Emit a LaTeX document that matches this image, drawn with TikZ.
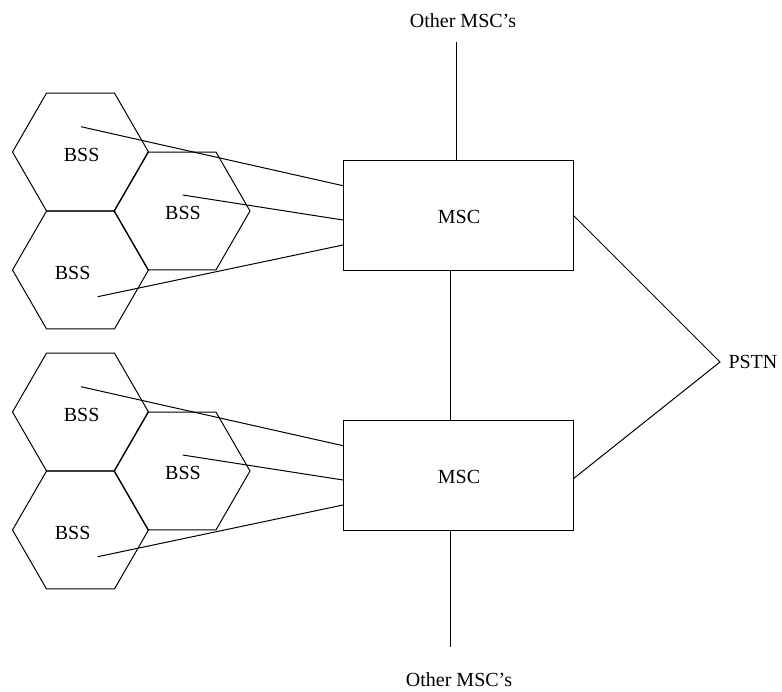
\documentclass[tikz,border=0pt]{standalone}
\usepackage{fontspec}
\setmainfont{Liberation Serif}
\usetikzlibrary{shapes.geometric}
\begin{document}
\begin{tikzpicture}[x=1pt,y=-1pt,line width=1pt,
  hexcell/.style={draw,regular polygon,regular polygon sides=6,minimum size=136pt,inner sep=0pt,outer sep=0pt},
  mscbox/.style={draw,rectangle,minimum width=230pt,minimum height=109.5pt,inner sep=0pt,outer sep=0pt},
  lbl/.style={inner sep=0pt,font=\fontsize{20}{24}\selectfont},
  link/.style={line width=1pt}]
\useasboundingbox (0,0) rectangle (782,691);
% MSC boxes
\node[mscbox] (msc1) at (458,215.5) {};
\node[mscbox] (msc2) at (458,475.5) {};
\node[lbl] (msc1t) at (459,217) {MSC};
\node[lbl] (msc2t) at (459,477) {MSC};
% other MSC's
\node[lbl] (othtop) at (463,21) {Other MSC’s};
\node[lbl] (othbot) at (459,680) {Other MSC’s};
\coordinate (toptip) at (456,41.7);
\coordinate (bottip) at (450.7,647);
\draw[link] (toptip) -- (toptip |- msc1.north);
\draw[link] (bottip |- msc1.south) -- (bottip |- msc2.north);
\draw[link] (bottip |- msc2.south) -- (bottip);
% PSTN
\node[lbl,anchor=west] (pstn) at (728,362) {PSTN};
\coordinate (pstntip) at (720,362);
\draw[link] (msc1.north east |- 0,215) -- (pstntip) -- (msc2.north east |- 0,479);
% BSS clusters
\foreach \k/\dy in {a/0,b/260}{
  \node[hexcell] (h1\k) at (80.5,152+\dy) {};
  \node[hexcell] (h2\k) at (182,211+\dy) {};
  \node[hexcell] (h3\k) at (80.5,270+\dy) {};
  \node[lbl] (t1\k) at (81.7,155+\dy) {BSS};
  \node[lbl] (t2\k) at (183,213+\dy) {BSS};
  \node[lbl] (t3\k) at (72.7,273+\dy) {BSS};
  \coordinate (s1\k) at (81,126.7+\dy);
  \coordinate (s2\k) at (182.7,195+\dy);
  \coordinate (s3\k) at (97.7,296.7+\dy);
  \coordinate (e1\k) at (343,185.7+\dy);
  \coordinate (e2\k) at (343,220+\dy);
  \coordinate (e3\k) at (343,245+\dy);
  \draw[link] (s1\k) -- (e1\k);
  \draw[link] (s2\k) -- (e2\k);
  \draw[link] (s3\k) -- (e3\k);
}
\end{tikzpicture}
\end{document}
